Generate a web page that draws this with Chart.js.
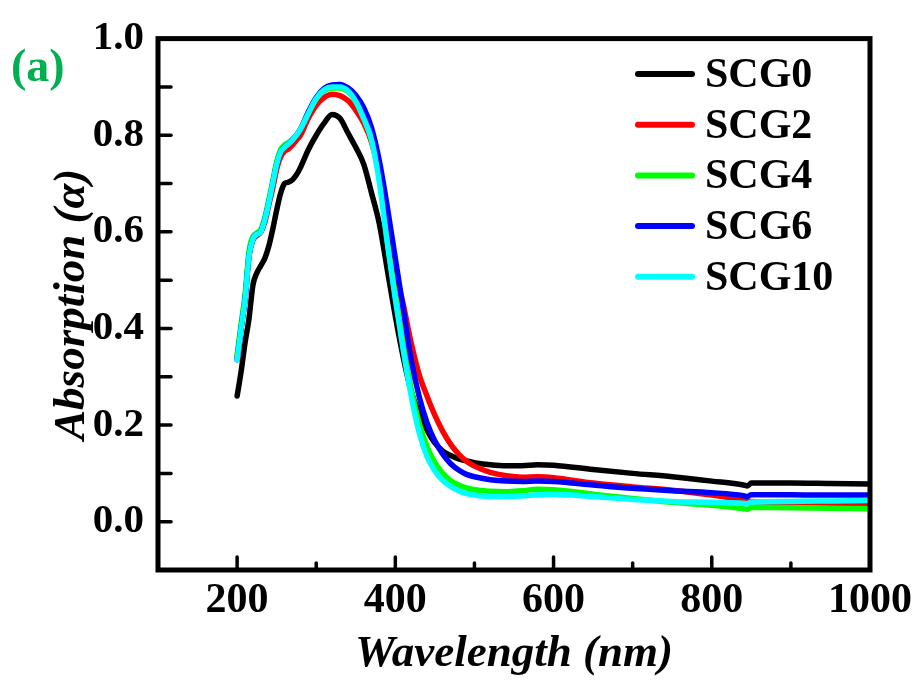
<!DOCTYPE html>
<html><head><meta charset="utf-8">
<script src="https://cdn.jsdelivr.net/npm/chart.js@4.4.1/dist/chart.umd.min.js"></script>
<style>html,body{margin:0;padding:0;background:#fff;overflow:hidden}</style>
</head><body>
<canvas id="c" width="919" height="681"></canvas>
<script>
const wavelength = [200,205,210,215,220,225,230,235,240,245,250,255,260,265,270,275,280,290,300,310,320,330,340,350,360,370,380,390,400,410,420,430,440,450,460,470,480,490,500,520,540,560,580,600,650,700,750,800,840,845,850,900,950,1000];

const scg0 = [0.26,0.31,0.37,0.42,0.49,0.515,0.53,0.545,0.57,0.605,0.645,0.68,0.70,0.703,0.708,0.718,0.733,0.77,0.80,0.825,0.843,0.835,0.805,0.775,0.74,0.68,0.615,0.52,0.425,0.34,0.27,0.225,0.19,0.163,0.146,0.137,0.13,0.126,0.122,0.118,0.116,0.116,0.118,0.117,0.108,0.100,0.093,0.084,0.076,0.074,0.080,0.080,0.079,0.078];

const scg2 = [0.34,0.40,0.46,0.55,0.583,0.592,0.60,0.62,0.655,0.69,0.73,0.755,0.767,0.772,0.78,0.79,0.80,0.835,0.862,0.878,0.885,0.882,0.872,0.852,0.825,0.785,0.715,0.61,0.52,0.45,0.37,0.305,0.26,0.22,0.187,0.16,0.14,0.125,0.115,0.102,0.095,0.092,0.093,0.091,0.080,0.072,0.065,0.055,0.045,0.043,0.042,0.040,0.038,0.037];

const scg4 = [0.345,0.41,0.47,0.56,0.59,0.598,0.605,0.63,0.665,0.705,0.745,0.77,0.78,0.785,0.792,0.80,0.812,0.845,0.875,0.892,0.898,0.898,0.89,0.87,0.835,0.79,0.715,0.58,0.47,0.365,0.275,0.205,0.155,0.122,0.10,0.085,0.076,0.07,0.066,0.063,0.062,0.064,0.067,0.066,0.057,0.048,0.040,0.034,0.027,0.026,0.030,0.029,0.028,0.027];

const scg6 = [0.335,0.40,0.46,0.55,0.585,0.595,0.60,0.625,0.66,0.70,0.74,0.765,0.775,0.782,0.79,0.80,0.812,0.848,0.878,0.897,0.904,0.905,0.898,0.883,0.857,0.815,0.745,0.65,0.545,0.44,0.335,0.26,0.205,0.167,0.14,0.12,0.107,0.098,0.093,0.087,0.084,0.083,0.084,0.083,0.076,0.069,0.064,0.060,0.054,0.052,0.056,0.056,0.055,0.055];

const scg10 = [0.335,0.40,0.46,0.55,0.585,0.595,0.60,0.625,0.66,0.70,0.74,0.765,0.775,0.782,0.79,0.80,0.812,0.845,0.876,0.894,0.90,0.90,0.892,0.87,0.835,0.79,0.70,0.575,0.46,0.355,0.26,0.185,0.135,0.105,0.085,0.073,0.064,0.058,0.055,0.052,0.052,0.053,0.056,0.057,0.052,0.046,0.042,0.040,0.038,0.037,0.041,0.042,0.043,0.044];

const seriesLabels = ['SCG0','SCG2','SCG4','SCG6','SCG10'];
const seriesValues = [scg0, scg2, scg4, scg6, scg10];
const seriesColors = ['#000000','#ff0000','#00ff00','#0000ff','#00ffff'];
const panelLabel = '(a)';
const xTitle = 'Wavelength (nm)';
const yTitle = 'Absorption (\u03B1)';

const FONT = '"Liberation Serif","Times New Roman",serif';

const datasets = seriesValues.map((vals, i) => ({
  label: seriesLabels[i],
  data: wavelength.map((w, j) => ({x: w, y: vals[j]})),
  borderColor: seriesColors[i],
  backgroundColor: seriesColors[i],
  borderWidth: 5.5,
  pointRadius: 0,
  tension: 0.4,
  cubicInterpolationMode: 'monotone',
  borderCapStyle: 'round',
  borderJoinStyle: 'round',
  order: seriesLabels.length - i
}));

const decor = {
  id: 'decor',
  afterDatasetsDraw(chart) {
    const {ctx, chartArea: a, scales: {x, y}} = chart;
    ctx.save();
    ctx.strokeStyle = '#000';
    ctx.lineCap = 'round';
    ctx.lineWidth = 3.5;
    const line = (x1, y1, x2, y2) => { ctx.beginPath(); ctx.moveTo(x1, y1); ctx.lineTo(x2, y2); ctx.stroke(); };
    x.ticks.forEach(t => {
      if (t.value <= 100 || t.value >= 1000) return;
      const px = x.getPixelForValue(t.value);
      const len = (Math.round(t.value) % 200 === 0) ? 13 : 7;
      line(px, a.bottom, px, a.bottom - len);
    });
    y.ticks.forEach(t => {
      if (t.value < -0.05 || t.value > 0.95) return;
      const py = y.getPixelForValue(t.value);
      line(a.left, py, a.left + 13, py);
    });
    ctx.lineWidth = 5;
    ctx.lineJoin = 'miter';
    ctx.strokeRect(a.left, a.top, a.right - a.left, a.bottom - a.top);

    // legend
    ctx.font = 'bold 42px ' + FONT;
    ctx.textBaseline = 'middle';
    ctx.textAlign = 'left';
    chart.data.datasets.forEach((ds, i) => {
      const ly = 74 + i * 50.7;
      ctx.strokeStyle = ds.borderColor;
      ctx.lineWidth = 6;
      ctx.lineCap = 'round';
      line(638, ly, 692, ly);
      ctx.fillStyle = '#000';
      ctx.fillText(ds.label, 705, ly + 2);
    });

    // panel label
    ctx.font = 'bold 46px ' + FONT;
    ctx.fillStyle = '#00b050';
    ctx.textBaseline = 'alphabetic';
    ctx.fillText(panelLabel, 11, 81);
    ctx.restore();
  }
};

new Chart(document.getElementById('c'), {
  type: 'line',
  data: { datasets },
  options: {
    responsive: false,
    animation: false,
    layout: { padding: { left: 41, top: 32, right: 49, bottom: 0 } },
    plugins: { legend: { display: false }, tooltip: { enabled: false } },
    scales: {
      x: {
        type: 'linear', min: 100, max: 1000,
        grid: { display: false, drawTicks: false },
        border: { display: false },
        ticks: {
          stepSize: 100, autoSkip: false, maxRotation: 0, padding: 6,
          color: '#000', font: { family: FONT, size: 42, weight: 'bold' },
          callback: v => (Math.round(v) % 200 === 0 && v >= 200) ? String(v) : ''
        },
        title: { display: true, text: xTitle, color: '#000', padding: 0,
          font: { family: FONT, size: 45, weight: 'bold', style: 'italic' } },
        afterFit(s) { s.height = 111; }
      },
      y: {
        type: 'linear', min: -0.1, max: 1.0,
        grid: { display: false, drawTicks: false },
        border: { display: false },
        ticks: {
          stepSize: 0.1, autoSkip: false, padding: 14,
          color: '#000', font: { family: FONT, size: 41, weight: 'bold' },
          callback: v => { const k = Math.round(v * 10); return (k >= 0 && k % 2 === 0) ? (k / 10).toFixed(1) : ''; }
        },
        title: { display: true, text: yTitle, color: '#000', padding: 4,
          font: { family: FONT, size: 45, weight: 'bold', style: 'italic' } },
        afterFit(s) { s.width = 117; }
      }
    }
  },
  plugins: [decor]
});
</script>
</body></html>
